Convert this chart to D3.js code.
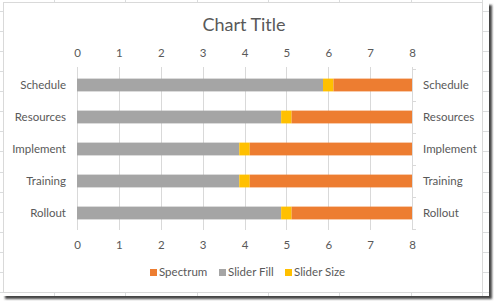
<!DOCTYPE html>
<html lang="en">
<head>
<meta charset="utf-8">
<title>Slider Chart</title>
<script src="https://d3js.org/d3.v7.min.js"></script>
<style>
  body { margin: 0; background: #fff; }
  text { font-family: Lato, "Liberation Sans", sans-serif; fill: #595959; }
</style>
</head>
<body>
<div id="chart"></div>
<script>
  // chart data
  var categories = ["Schedule", "Resources", "Implement", "Training", "Rollout"];
  var sliderFill = [5.875, 4.875, 3.875, 3.875, 4.875];
  var sliderSize = [0.25, 0.25, 0.25, 0.25, 0.25];
  var spectrum = [1.875, 2.875, 3.875, 3.875, 2.875];
  var xTicks = [0, 1, 2, 3, 4, 5, 6, 7, 8];
  var legendNames = ["Spectrum", "Slider Fill", "Slider Size"];

  var w = 494, h = 302;
  var colors = { "Spectrum": "#ED7D31", "Slider Fill": "#A5A5A5", "Slider Size": "#FFC000" };

  var svg = d3.select("#chart").append("svg")
    .attr("width", w)
    .attr("height", h);

  // drop shadow of the screenshot
  var defs = svg.append("defs");
  defs.append("filter").attr("id", "blur")
    .append("feGaussianBlur").attr("stdDeviation", 1.2);
  svg.append("rect")
    .attr("x", 5).attr("y", 5).attr("width", 487).attr("height", 294)
    .attr("fill", "#444").attr("filter", "url(#blur)");

  // spreadsheet behind the chart
  svg.append("rect")
    .attr("x", 0).attr("y", 0).attr("width", 489).attr("height", 296)
    .attr("fill", "#fff");
  var sheet = svg.append("g");
  d3.range(54, 489, 71.3).forEach(function (cx) {
    sheet.append("line")
      .attr("x1", Math.round(cx) + 0.5).attr("x2", Math.round(cx) + 0.5)
      .attr("y1", 0).attr("y2", 296)
      .attr("stroke", "#dadcdd");
  });
  d3.range(11, 296, 20.07).forEach(function (cy) {
    sheet.append("line")
      .attr("x1", 0).attr("x2", 489)
      .attr("y1", Math.round(cy) + 0.5).attr("y2", Math.round(cy) + 0.5)
      .attr("stroke", "#dadcdd");
  });

  // chart area
  svg.append("rect")
    .attr("x", 3.5).attr("y", 2.5).attr("width", 479).attr("height", 290)
    .attr("fill", "#fff").attr("stroke", "#d9d9d9");

  svg.append("text")
    .attr("x", 244).attr("y", 31)
    .attr("text-anchor", "middle")
    .style("font-size", "18px")
    .text("Chart Title");

  var xScale = d3.scaleLinear().domain([0, 8]).range([77, 412]);
  var yScale = d3.scaleBand().domain(categories).range([69, 229])
    .paddingInner(0.6).paddingOuter(0.3);

  // vertical gridlines
  svg.append("g").selectAll("line")
    .data(xTicks)
    .enter().append("line")
    .attr("x1", d => Math.round(xScale(d)) + 0.5)
    .attr("x2", d => Math.round(xScale(d)) + 0.5)
    .attr("y1", 67).attr("y2", 230)
    .attr("stroke", "#d9d9d9");

  // small ticks on the right category axis
  var bounds = d3.range(categories.length + 1).map(i => 69 + i * yScale.step());
  svg.append("g").selectAll("line")
    .data(bounds)
    .enter().append("line")
    .attr("x1", 412).attr("x2", 416)
    .attr("y1", d => Math.round(d) + 0.5).attr("y2", d => Math.round(d) + 0.5)
    .attr("stroke", "#d9d9d9");

  // stacked bars
  var stackKeys = ["Slider Fill", "Slider Size", "Spectrum"];
  var rows = categories.map(function (c, i) {
    return { cat: c, "Slider Fill": sliderFill[i], "Slider Size": sliderSize[i], "Spectrum": spectrum[i] };
  });
  var series = d3.stack().keys(stackKeys)(rows);

  svg.append("g").selectAll("g")
    .data(series)
    .enter().append("g")
    .attr("fill", d => colors[d.key])
    .selectAll("rect")
    .data(d => d)
    .enter().append("rect")
    .attr("x", d => xScale(d[0]))
    .attr("width", d => xScale(d[1]) - xScale(d[0]))
    .attr("y", d => yScale(d.data.cat))
    .attr("height", yScale.bandwidth());

  // axes
  var topAxis = svg.append("g")
    .attr("transform", "translate(0,57)")
    .call(d3.axisTop(xScale).tickValues(xTicks).tickSize(0).tickPadding(0));
  var bottomAxis = svg.append("g")
    .attr("transform", "translate(0,241)")
    .call(d3.axisBottom(xScale).tickValues(xTicks).tickSize(0).tickPadding(0));
  var leftAxis = svg.append("g")
    .attr("transform", "translate(66,0)")
    .call(d3.axisLeft(yScale).tickSize(0).tickPadding(0));
  var rightAxis = svg.append("g")
    .attr("transform", "translate(423,0)")
    .call(d3.axisRight(yScale).tickSize(0).tickPadding(0));

  [topAxis, bottomAxis, leftAxis, rightAxis].forEach(function (a) {
    a.select(".domain").remove();
    a.selectAll("text")
      .style("font-family", "Lato, 'Liberation Sans', sans-serif")
      .style("font-size", "11.5px")
      .attr("fill", "#595959");
  });

  // legend
  var legendX = [150, 219, 285];
  var legend = svg.append("g");
  legendNames.forEach(function (name, i) {
    legend.append("rect")
      .attr("x", legendX[i]).attr("y", 269)
      .attr("width", 7).attr("height", 7)
      .attr("fill", colors[name]);
    legend.append("text")
      .attr("x", legendX[i] + 9).attr("y", 276)
      .style("font-size", "11.5px")
      .text(name);
  });
</script>
</body>
</html>
